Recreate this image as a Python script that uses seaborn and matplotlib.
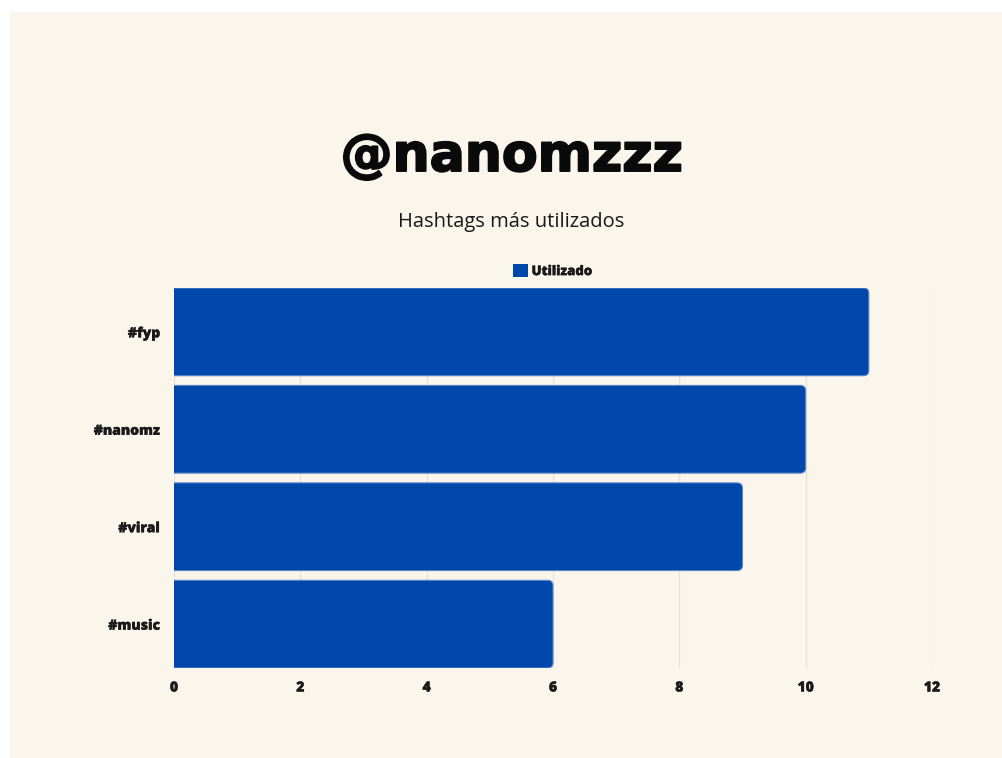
import matplotlib
matplotlib.use("Agg")
import matplotlib.pyplot as plt
import matplotlib.patches as mpatches
import matplotlib.patheffects as pe
from matplotlib.patches import FancyBboxPatch, Rectangle
import seaborn as sns
import pandas as pd

# Data
hashtags = ["#fyp", "#nanomz", "#viral", "#music"]
usos = [11, 10, 9, 6]
series_label = "Utilizado"
title_text = "@nanomzzz"
subtitle_text = "Hashtags más utilizados"
x_ticks = [0, 2, 4, 6, 8, 10, 12]

BLUE = "#0047AB"
CREAM = "#FAF6EB"
GRID = "#E6E2DA"
TEXT = "#1A1A1A"

sns.set_theme(style="white")
plt.rcParams["font.family"] = ["Open Sans", "DejaVu Sans"]

W, H = 1002, 758
fig = plt.figure(figsize=(W / 100, H / 100), dpi=100, facecolor="white")
fig.patches.append(Rectangle((10 / W, -0.05), 1.1, 1.05 - 12 / H, transform=fig.transFigure,
                             facecolor=CREAM, edgecolor="none", zorder=-10))

ax = fig.add_axes([174 / W, 1 - 668 / H, (932 - 174) / W, (668 - 288) / H])
ax.set_facecolor(CREAM)
ax.patch.set_alpha(0)

df = pd.DataFrame({"hashtag": hashtags, "uso": usos})
sns.barplot(data=df, x="uso", y="hashtag", color=BLUE, width=0.9, ax=ax, saturation=1)

# Replace rectangles with rounded versions derived from the drawn bars
ax_w_px = (932 - 174)
ax_h_px = (668 - 288)
xr = 12.0
yr = 3.9
aspect = (yr / ax_h_px) / (xr / ax_w_px)
rects = list(ax.patches)
for r in rects:
    x0, y0, w, h = r.get_x(), r.get_y(), r.get_width(), r.get_height()
    r.remove()
    rs = 0.085
    fb = FancyBboxPatch((x0 - 0.3, y0), w + 0.3, h,
                        boxstyle=f"round,pad=0,rounding_size={rs}",
                        mutation_aspect=aspect,
                        facecolor=BLUE, edgecolor="#5B86C9", linewidth=0.8,
                        zorder=3, clip_on=True)
    ax.add_patch(fb)

ax.set_xlim(0, 12)
ax.set_ylim(3.45, -0.45)
ax.set_xticks(x_ticks)
ax.set_xticklabels([str(t) for t in x_ticks])
ax.grid(axis="x", color=GRID, linewidth=1, zorder=0)
ax.grid(axis="y", visible=False)
ax.set_axisbelow(True)
for s in ax.spines.values():
    s.set_visible(False)
ax.set_xlabel("")
ax.set_ylabel("")
ax.tick_params(axis="both", length=0, labelsize=10, labelcolor=TEXT)
ax.tick_params(axis="x", pad=9)
ax.tick_params(axis="y", pad=10)
for lab in ax.get_xticklabels() + ax.get_yticklabels():
    lab.set_fontweight("heavy")
    lab.set_path_effects([pe.withStroke(linewidth=0.25, foreground=TEXT)])

handle = mpatches.Patch(facecolor=BLUE, edgecolor="none", label=series_label)
leg = ax.legend(handles=[handle], loc="center", bbox_to_anchor=(0.5, 1 + (288 - 271) / ax_h_px),
                frameon=False, handlelength=1.15, handleheight=1.2, handletextpad=0.25,
                prop={"weight": "heavy", "size": 9.5})
for t in leg.get_texts():
    t.set_color(TEXT)
    t.set_path_effects([pe.withStroke(linewidth=0.25, foreground=TEXT)])

fig.text(512 / W, 1 - 157 / H, title_text, ha="center", va="center",
         fontsize=37.5, fontweight="bold", color="#0A0A0A", family=["DejaVu Sans"],
         path_effects=[pe.withStroke(linewidth=1.4, foreground="#0A0A0A")])
fig.text(511 / W, 1 - 222 / H, subtitle_text, ha="center", va="center",
         fontsize=14.5, color=TEXT)

fig.savefig("out.png", dpi=100, facecolor="white")
